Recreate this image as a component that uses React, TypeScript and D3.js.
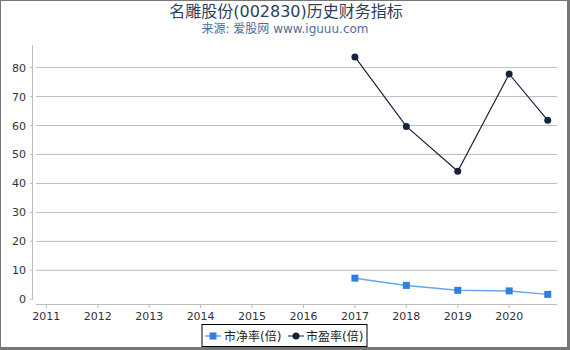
import React from 'react';
import * as d3 from 'd3';

const W = 570;
const H = 350;

const yearTicks = [2011, 2012, 2013, 2014, 2015, 2016, 2017, 2018, 2019, 2020];
const yTicks = [0, 10, 20, 30, 40, 50, 60, 70, 80];

// report dates as fractional years (last one is 2020 Q3)
const dates = [2017, 2018, 2019, 2020, 2020.75];
const pbValues = [7.3, 4.8, 3.1, 2.9, 1.7];
const peValues = [83.7, 59.7, 44.2, 77.8, 61.8];

const pbColor = '#2f7fdc';
const pbLine = '#6aa6ea';
const peColor = '#13243b';

const App: React.FC = () => {
  const x = d3.scaleLinear().domain([2010.74, 2020.93]).range([33, 557]);
  const y = d3.scaleLinear().domain([0, 87.8]).range([299.3, 45]);

  const pbData = dates.map((d, i) => ({ d, v: pbValues[i] }));
  const peData = dates.map((d, i) => ({ d, v: peValues[i] }));

  const line = d3
    .line<{ d: number; v: number }>()
    .x(p => x(p.d))
    .y(p => y(p.v));

  const font = 'DejaVu Sans, Noto Sans CJK SC, sans-serif';

  return (
    <svg
      width={W}
      height={H}
      style={{ position: 'absolute', left: 0, top: 0, background: '#fff' }}
      fontFamily={font}
    >
      {/* frame */}
      <rect x={0} y={0} width={W} height={H} fill="#fff" />
      <line x1={0} y1={0.5} x2={W} y2={0.5} stroke="#777" strokeWidth={1} />
      <line x1={0.5} y1={0} x2={0.5} y2={H} stroke="#777" strokeWidth={1} />
      <line x1={568.5} y1={0} x2={568.5} y2={H} stroke="#777" strokeWidth={3} />
      <line x1={0} y1={348.5} x2={W} y2={348.5} stroke="#777" strokeWidth={3} />

      {/* titles */}
      <text x={286} y={17} textAnchor="middle" fontSize={16} fill="#2b3f5c">
        名雕股份(002830)历史财务指标
      </text>
      <text x={285} y={33} textAnchor="middle" fontSize={12} fill="#4d6f9c">
        来源: 爱股网 www.iguuu.com
      </text>

      {/* grid */}
      {yTicks.map(t => (
        <g key={t}>
          {t > 0 && (
            <line x1={36} x2={557} y1={y(t)} y2={y(t)} stroke="#bdbdbd" strokeWidth={1} />
          )}
          <line x1={30} x2={33} y1={y(t)} y2={y(t)} stroke="#bdbdbd" strokeWidth={1} />
          <text x={26} y={y(t) + 4} textAnchor="end" fontSize={11} fill="#333">
            {t}
          </text>
        </g>
      ))}

      {/* axes */}
      <line x1={32.5} x2={32.5} y1={45} y2={300} stroke="#bdbdbd" strokeWidth={1} />
      <line x1={36} x2={557} y1={304.5} y2={304.5} stroke="#bdbdbd" strokeWidth={1} />
      {yearTicks.map(t => (
        <g key={t}>
          <line x1={x(t)} x2={x(t)} y1={304} y2={308} stroke="#bdbdbd" strokeWidth={1} />
          <text x={x(t)} y={320} textAnchor="middle" fontSize={11} fill="#333">
            {t}
          </text>
        </g>
      ))}

      {/* series */}
      <path d={line(peData) || ''} fill="none" stroke={peColor} strokeWidth={1.2} />
      {peData.map((p, i) => (
        <circle key={i} cx={x(p.d)} cy={y(p.v)} r={3.5} fill={peColor} />
      ))}
      <path d={line(pbData) || ''} fill="none" stroke={pbLine} strokeWidth={1.5} />
      {pbData.map((p, i) => (
        <rect key={i} x={x(p.d) - 3.5} y={y(p.v) - 3.5} width={7} height={7} fill={pbColor} />
      ))}

      {/* legend */}
      <rect x={202} y={324.5} width={165} height={22} fill="#fff" stroke="#000" strokeWidth={1} />
      <line x1={205} x2={221} y1={336} y2={336} stroke={pbLine} strokeWidth={1.5} />
      <rect x={209.5} y={332.5} width={7} height={7} fill={pbColor} />
      <text x={224} y={340.5} fontSize={12} fill="#222">市净率(倍)</text>
      <line x1={288} x2={304} y1={336} y2={336} stroke={peColor} strokeWidth={1} />
      <circle cx={296} cy={336} r={3.5} fill={peColor} />
      <text x={306} y={340.5} fontSize={12} fill="#222">市盈率(倍)</text>
    </svg>
  );
};

export default App;
